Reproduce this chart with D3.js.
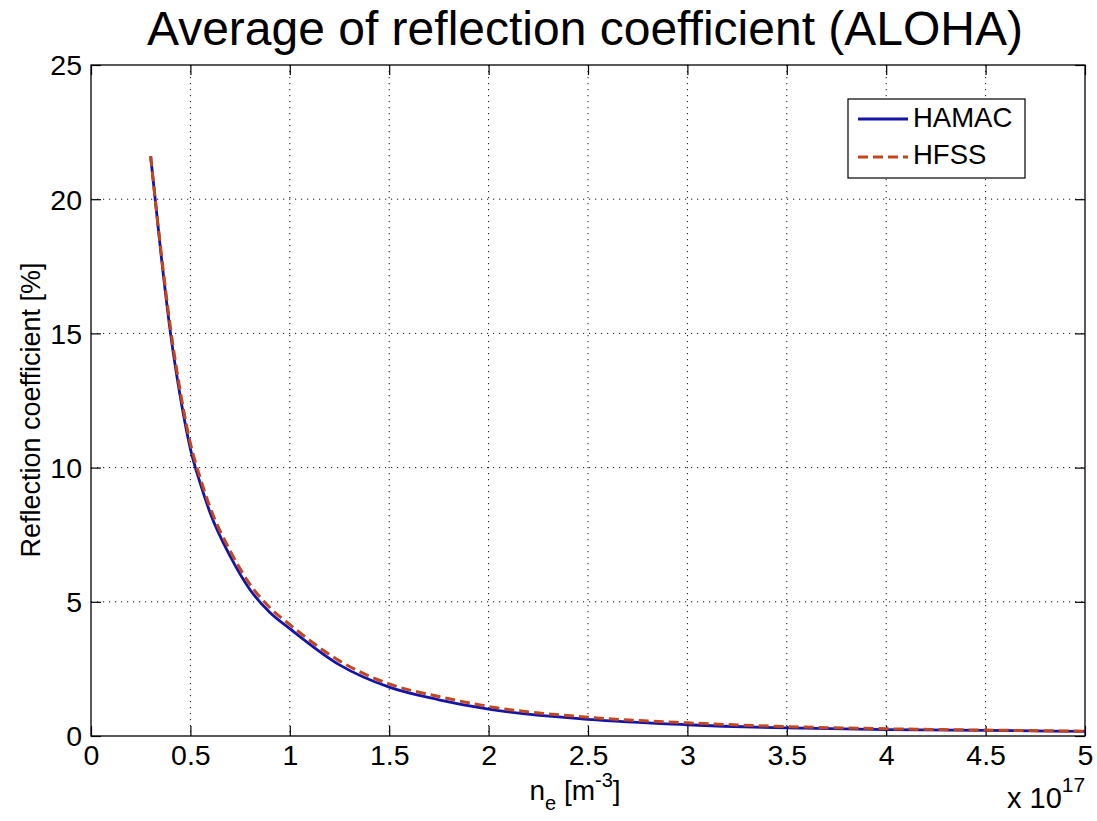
<!DOCTYPE html>
<html><head><meta charset="utf-8">
<script src="https://cdn.jsdelivr.net/npm/d3@7"></script>
<style>body{margin:0;background:#fff}svg{display:block}text{font-family:"Liberation Sans",Arial,sans-serif;fill:#000}</style>
</head><body><svg id="c" width="1097" height="821"></svg>
<script>
const title = "Average of reflection coefficient (ALOHA)";
const seriesNames = ["HAMAC", "HFSS"];
const xTicks = [0, 0.5, 1, 1.5, 2, 2.5, 3, 3.5, 4, 4.5, 5];
const xTickLabels = ["0","0.5","1","1.5","2","2.5","3","3.5","4","4.5","5"];
const yTicks = [0, 5, 10, 15, 20, 25];
const yTickLabels = ["0","5","10","15","20","25"];
const ne = [0.30,0.35,0.40,0.45,0.50,0.55,0.60,0.70,0.80,0.90,1.00,1.25,1.50,1.75,2.00,2.50,3.00,3.50,4.00,4.50,5.00];
const hamac = [21.6,18.1,15.0,12.6,10.7,9.4,8.3,6.7,5.45,4.6,4.0,2.65,1.82,1.35,1.0,0.62,0.42,0.30,0.24,0.21,0.17];
const hfss  = [21.6,18.2,15.2,12.8,10.9,9.6,8.5,6.9,5.65,4.78,4.15,2.8,1.94,1.47,1.1,0.70,0.49,0.35,0.27,0.22,0.18];

const svg = d3.select("#c");
const L = 91, R = 1085, T = 65, B = 736;
const x = d3.scaleLinear().domain([0,5]).range([L,R]);
const y = d3.scaleLinear().domain([0,25]).range([B,T]);
const FF = "Liberation Sans, Arial, sans-serif";

// grid
const g = svg.append("g");
g.selectAll("line.vx").data(xTicks.slice(1,-1)).enter().append("line")
  .attr("x1",d=>x(d)).attr("x2",d=>x(d)).attr("y1",T).attr("y2",B)
  .attr("stroke","#111").attr("stroke-width",1).attr("stroke-dasharray","1.2,4.8");
g.selectAll("line.hy").data(yTicks.slice(1,-1)).enter().append("line")
  .attr("y1",d=>y(d)).attr("y2",d=>y(d)).attr("x1",L).attr("x2",R)
  .attr("stroke","#111").attr("stroke-width",1).attr("stroke-dasharray","1.2,4.8");

// axes (ticks inward, MATLAB style)
const tk = 10;
const xb = svg.append("g").attr("transform",`translate(0,${B})`)
  .call(d3.axisBottom(x).tickValues(xTicks).tickSize(-tk).tickFormat((d,i)=>xTickLabels[i]));
const xt = svg.append("g").attr("transform",`translate(0,${T})`)
  .call(d3.axisTop(x).tickValues(xTicks).tickSize(-tk).tickFormat(""));
const yl = svg.append("g").attr("transform",`translate(${L},0)`)
  .call(d3.axisLeft(y).tickValues(yTicks).tickSize(-tk).tickFormat((d,i)=>yTickLabels[i]));
const yr = svg.append("g").attr("transform",`translate(${R},0)`)
  .call(d3.axisRight(y).tickValues(yTicks).tickSize(-tk).tickFormat(""));
[xb,xt,yl,yr].forEach(a=>{a.select(".domain").remove();a.selectAll("line").attr("stroke","#000").attr("stroke-width",1.2);});
xb.selectAll("text").attr("font-size",28.5).attr("dy",null).attr("y",29).attr("font-family",FF);
yl.selectAll("text").attr("font-size",28.5).attr("x",-9).attr("dy","0.35em").attr("font-family",FF);
svg.append("rect").attr("x",L).attr("y",T).attr("width",R-L).attr("height",B-T)
  .attr("fill","none").attr("stroke","#000").attr("stroke-width",1.3);

// lines
const line = d3.line().x((d,i)=>x(ne[i])).y(d=>y(d)).curve(d3.curveMonotoneX);
svg.append("path").datum(hamac).attr("d",line).attr("fill","none")
  .attr("stroke","#1414a8").attr("stroke-width",2.8);
svg.append("path").datum(hfss).attr("d",line).attr("fill","none")
  .attr("stroke","#c4461c").attr("stroke-width",3).attr("stroke-dasharray","10,5");

// legend
const lg = svg.append("g");
lg.append("rect").attr("x",848).attr("y",99).attr("width",177).attr("height",79)
  .attr("fill","#fff").attr("stroke","#000").attr("stroke-width",1.2);
lg.append("line").attr("x1",858).attr("x2",908).attr("y1",119).attr("y2",119)
  .attr("stroke","#1414a8").attr("stroke-width",2.8);
lg.append("line").attr("x1",858).attr("x2",908).attr("y1",157).attr("y2",157)
  .attr("stroke","#c4461c").attr("stroke-width",3).attr("stroke-dasharray","10,5");
lg.append("text").attr("x",913).attr("y",127).attr("font-size",27.5).text(seriesNames[0]);
lg.append("text").attr("x",913).attr("y",164).attr("font-size",27.5).text(seriesNames[1]);

// title
svg.append("text").attr("x",585).attr("y",45).attr("text-anchor","middle")
  .attr("font-size",48).text(title);

// y label
svg.append("text").attr("transform",`translate(40,${410}) rotate(-90)`)
  .attr("text-anchor","middle").attr("font-size",27).text("Reflection coefficient [%]");

// x label with sub/superscripts
const xl = svg.append("text").attr("x",575).attr("y",800).attr("text-anchor","middle").attr("font-size",28);
xl.append("tspan").text("n");
xl.append("tspan").attr("dy",10).attr("font-size",20).text("e");
xl.append("tspan").attr("dy",-10).text(" [m");
xl.append("tspan").attr("dy",-13).attr("font-size",20).text("-3");
xl.append("tspan").attr("dy",13).text("]");

// exponent
const ex = svg.append("text").attr("x",1007).attr("y",808).attr("font-size",29);
ex.append("tspan").text("x 10");
ex.append("tspan").attr("dy",-16).attr("font-size",21).text("17");
</script></body></html>
